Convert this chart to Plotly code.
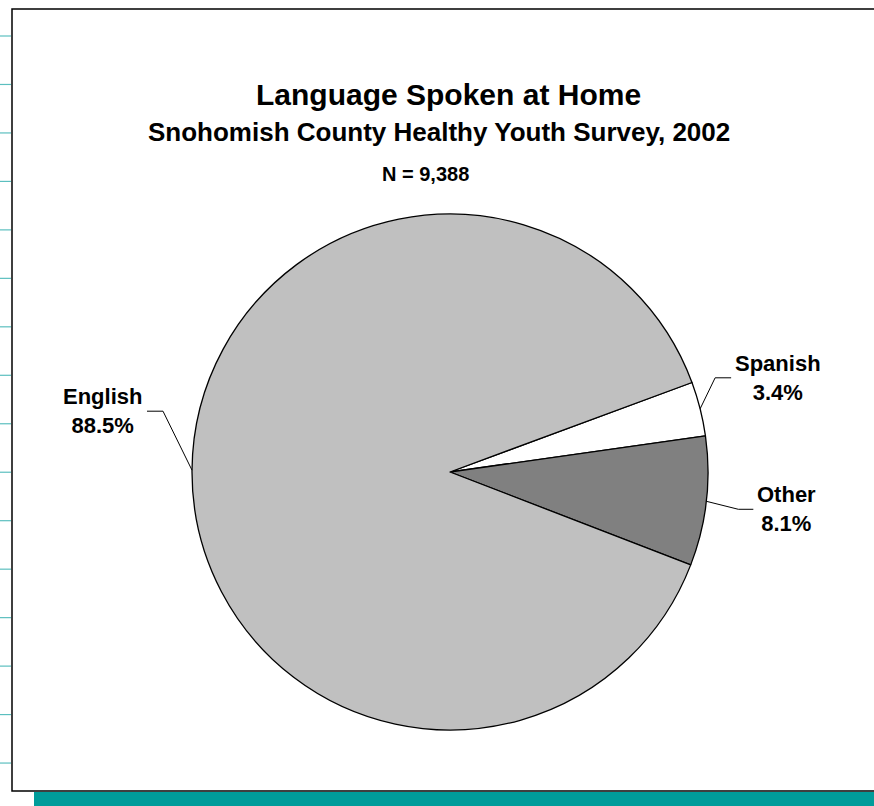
import math
import plotly.graph_objects as go

# Survey results: language spoken at home
languages = ["Spanish", "Other", "English"]
percents = [3.4, 8.1, 88.5]
slice_colors = ["#FFFFFF", "#808080", "#C0C0C0"]

title_text = "Language Spoken at Home"
subtitle_text = "Snohomish County Healthy Youth Survey, 2002"
n_text = "N = 9,388"

W, H = 874, 806
FONT = "Liberation Sans, Arial, sans-serif"

# pie placement in pixels
cx, cy, radius = 450, 472, 258
start_angle = 69.7  # degrees clockwise from 12 o'clock

# leader-line elbows (pixel offsets from the slice edge) and text offsets
leader_style = {
    "Spanish": dict(elbow=(15, -31), tail=16, text_dx=47),
    "Other": dict(elbow=(32, 8), tail=15, text_dx=33),
    "English": dict(elbow=(-29, -59), tail=-16, text_dx=-45),
}


def px(x):
    return x / W


def py(y):
    return 1 - y / H


fig = go.Figure()
fig.add_trace(go.Pie(
    labels=languages,
    values=percents,
    sort=False,
    direction="clockwise",
    rotation=start_angle,
    marker=dict(colors=slice_colors, line=dict(color="black", width=1.3)),
    textinfo="none",
    hoverinfo="label+percent",
    showlegend=False,
    domain=dict(x=[px(cx - radius), px(cx + radius)],
                y=[py(cy + radius), py(cy - radius)]),
))

shapes = []
annotations = []

# frame and decorations
shapes.append(dict(type="rect", xref="paper", yref="paper",
                   x0=px(12), x1=px(W + 5), y0=py(791), y1=py(9),
                   line=dict(color="black", width=1.5), fillcolor="rgba(0,0,0,0)",
                   layer="below"))
shapes.append(dict(type="rect", xref="paper", yref="paper",
                   x0=px(34), x1=px(W + 2), y0=py(H + 2), y1=py(792),
                   line=dict(width=0), fillcolor="#009C9A"))
for k in range(16):
    ty = 36 + k * 48.47
    shapes.append(dict(type="line", xref="paper", yref="paper",
                       x0=px(0), x1=px(11), y0=py(ty), y1=py(ty),
                       line=dict(color="#5BBFBF", width=1.2)))

# slice labels with leader lines
total = sum(percents)
angle = start_angle
for name, val in zip(languages, percents):
    span = val / total * 360
    mid = math.radians(angle + span / 2)
    angle += span
    ex = cx + radius * math.sin(mid)
    ey = cy - radius * math.cos(mid)
    st = leader_style[name]
    bx, by = ex + st["elbow"][0], ey + st["elbow"][1]
    tx = bx + st["tail"]
    for (x0, y0, x1, y1) in [(ex, ey, bx, by), (bx, by, tx, by)]:
        shapes.append(dict(type="line", xref="paper", yref="paper",
                           x0=px(x0), y0=py(y0), x1=px(x1), y1=py(y1),
                           line=dict(color="black", width=1)))
    annotations.append(dict(
        xref="paper", yref="paper", x=px(tx + st["text_dx"]), y=py(by),
        xanchor="center", yanchor="middle", showarrow=False, align="center",
        text=f"<b>{name}<br>{val:.1f}%</b>",
        font=dict(family=FONT, size=22, color="black"),
    ))

# titles
for txt, xcen, ycen, size in [(title_text, 449, 95, 30),
                              (subtitle_text, 439, 132, 26),
                              (n_text, 425, 174, 20)]:
    annotations.append(dict(
        xref="paper", yref="paper", x=px(xcen), y=py(ycen),
        xanchor="center", yanchor="middle", showarrow=False,
        text=f"<b>{txt}</b>", font=dict(family=FONT, size=size, color="black"),
    ))

fig.update_layout(
    width=W, height=H,
    margin=dict(l=0, r=0, t=0, b=0),
    paper_bgcolor="white", plot_bgcolor="white",
    shapes=shapes, annotations=annotations,
)

fig.write_html("out.html")
